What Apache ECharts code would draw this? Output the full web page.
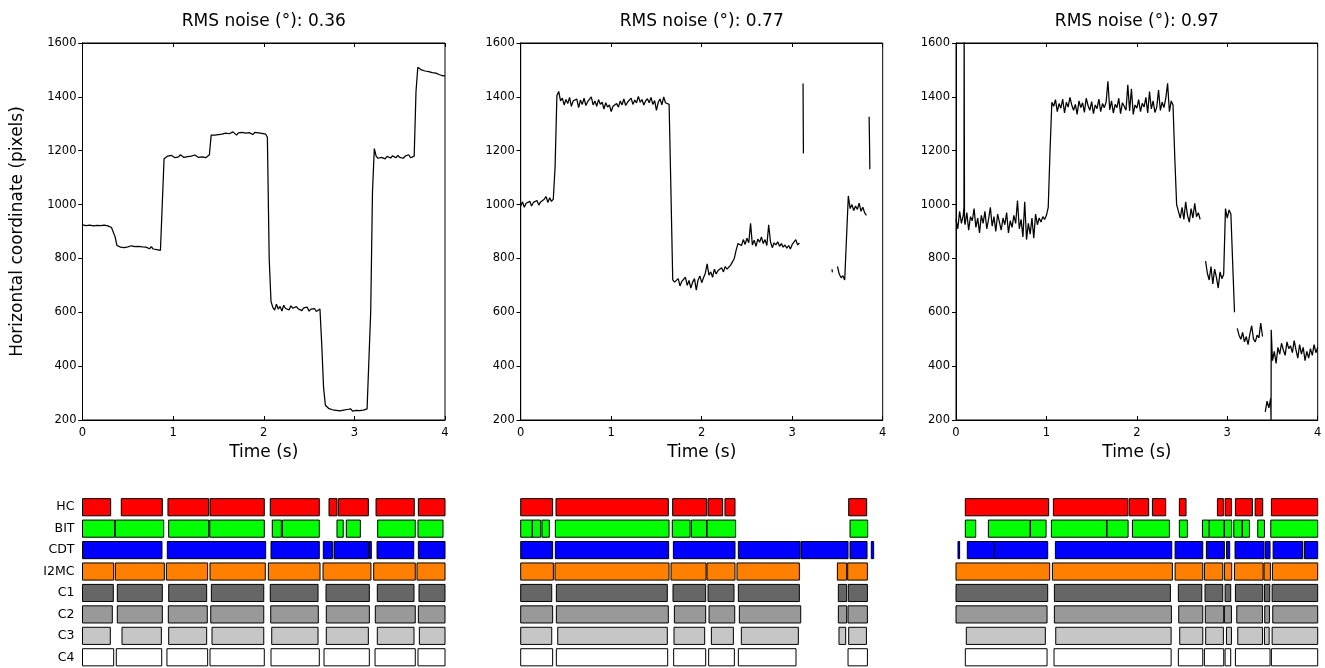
<!DOCTYPE html>
<html><head><meta charset="utf-8">
<script src="https://cdn.jsdelivr.net/npm/echarts@6/dist/echarts.min.js"></script>
<style>html,body{margin:0;padding:0;background:#fff}#c{width:1325px;height:668px}</style>
</head><body><div id="c"></div>
<script>
// ---------------- DATA ----------------
const panelTitles = ['RMS noise (°): 0.36', 'RMS noise (°): 0.77', 'RMS noise (°): 0.97'];
const xTickLabels = ['0', '1', '2', '3', '4'];
const yTickLabels = ['200', '400', '600', '800', '1000', '1200', '1400', '1600'];
const methods = ['HC', 'BIT', 'CDT', 'I2MC', 'C1', 'C2', 'C3', 'C4'];

// gaze traces: [start time (s), samples..., optional sample step (s)]
const trace1 = [
  [0.00, [925,928,922,927,924,926,921,925,923,927,922,920,924,919,921,917,915,918]],
  [0.36, [880,848,845,842,849,840,846,843,841,847,842,844,839,845,841,843,838,842,840,836,844,835,838,833,836,830,835]],
  [0.90, [1170,1172,1180,1176,1183,1178,1174,1181,1177,1185,1179,1175,1182,1178,1173,1180,1176,1184,1178,1175,1181,1177,1179,1174,1180,1185]],
  [1.42, [1258,1262,1258,1264,1260,1266,1262,1259,1265,1268,1263,1267,1270,1264,1258,1266,1262,1268,1271,1265,1262,1267,1264,1260,1268,1263,1266,1261,1264,1268,1262,1250]],
  [2.06, [800,640,618,608,630,612,622,605,626,614,620,609,624,615,610,621,613,618,606,616,611,619,604,612,608,614,603,610,612]],
  [2.64, [480,320,255,248,242,245,238,243,236,241,234,240,237,232,239,235,241,233,238,236,242,235,240,237,243,241,246]],
  [3.18, [600,1050,1208,1180,1172,1178,1175,1182,1170,1179,1176,1173,1181,1177,1174,1183,1175,1178,1172,1180,1176,1185,1174,1178,1180]],
  [3.68, [1420,1510,1505,1500,1502,1496,1498,1494,1492,1490,1486,1488,1484,1482,1480,1478,1479]]
];
const trace2 = [
  [0.00, [995,1010,990,1005,1000,1012,995,1008,1002,1015,998,1010,1005,1020,1030,1008,1025,1012,1020,1140,1405]],
  [0.42, [1420,1385,1395,1370,1390,1375,1398,1365,1385,1378,
          1392,1360,1388,1372,1395,1368,1382,1375,1400,1370,
          1385,1365,1390,1372,1380,1355,1378,1362,1370,1345,
          1365,1358,1375,1362,1385,1370,1392,1368,1380,1375,
          1395,1372,1388,1378,1402,1380,1390,1370,1385,1393,
          1378,1398,1372,1386,1350,1380,1392,1370,1400,1378,
          1385,1372]],
  [1.66, [1050,720,712,705,725,698,715,708,730,700,718,690,712,725,682,720,735,710,728,745,780,738,750,730,760,742,755,748,765,750,770,760,755,775,770,800,830,855]],
  [2.42, [860,848,870,852,875,858,930,850,868,845,872,860,880,855,870,848,925,862,840,858,850,862,845,855,842,850,838,848,835,852,845,870,850,858]],
  [3.12, [1450,1300,1190], 0.002],
  [3.44, [760,748], 0.004],
  [3.50, [770,742,728,736,720,725,1032,985,1000,978,995,982,1005,975,990,970,960]],
  [3.85, [1326,1240,1131], 0.004]
];
const trace3 = [
  [0.00, [945,910,975,930,960]],
  [0.088, [990,1700,1700,940], 0.002],
  [0.10, [925,970,905,955,940,985,915,950,895,960,
          930,975,910,945,990,920,955,900,965,935,
          905,950,925,970,895,940,915,960,930,1015,
          910,945,880,1010,870,930,890,950,875,965,
          925,950,935,955,945]],
  [1.00, [960,990,1200,1380,
          1365,1390,1345,1375,1358,1392,1340,1380,1362,1398,
          1370,1350,1372,1335,1385,1360,1378,1342,1395,1368,
          1350,1382,1338,1370,1356,1392,1345,1375,1360,1380,
          1458,1352,1385,1340,1372,1360,1395,1338,1378,1365,
          1350,1445,1348,1430,1335,1370,1358,1390,1345,1376,
          1362,1398,1340,1420,1355,1385,1342,1362,1425,1350,
          1380,1360,1395,1450,1345,1385]],
  [2.40, [1370,1170,1000,975,950,990,945,1010,960,935,985,950,1005,955,970,945]],
  [2.76, [790,745,720,770,705,760,730,690,750,725,740,985,950,980,965,780,600]],
  [3.11, [540,515,500,525,490,510,480,520,550,500,490,515,505,560,510]],
  [3.42, [230,270,245,280]],
  [3.484, [200,535], 0.002],
  [3.50, [420,455,410,470,445,485,460,440,490,465,
          475,450,495,460,430,480,445,470,420,455,
          430,465,440,480,450,470]]
];

// event intervals [start, end] in s, rows in the order of `methods`
const events1 = [
  [[0,0.311],[0.428,0.881],[0.943,1.392],[1.407,2.006],[2.072,2.613],[2.720,2.808],[2.823,3.154],[3.239,3.661],[3.706,4.0]],
  [[0,0.355],[0.362,0.896],[0.951,1.392],[1.404,2.006],[2.094,2.194],[2.205,2.613],[2.808,2.877],[2.911,3.066],[3.257,3.672],[3.702,3.978]],
  [[0,0.877],[0.936,2.021],[2.080,2.613],[2.657,2.757],[2.775,3.158],[3.165,3.187],[3.250,3.655],[3.706,4.0]],
  [[0,0.344],[0.362,0.903],[0.925,1.381],[1.407,2.017],[2.051,2.621],[2.654,3.183],[3.213,3.672],[3.691,4.0]],
  [[0,0.340],[0.384,0.881],[0.951,1.370],[1.422,2.0],[2.072,2.599],[2.687,3.165],[3.253,3.658],[3.713,4.0]],
  [[0,0.329],[0.384,0.881],[0.947,1.377],[1.415,2.0],[2.077,2.602],[2.690,3.165],[3.231,3.672],[3.706,4.0]],
  [[0,0.307],[0.436,0.870],[0.951,1.370],[1.429,2.0],[2.088,2.599],[2.690,3.154],[3.253,3.658],[3.717,4.0]],
  [[0,0.344],[0.373,0.874],[0.932,1.381],[1.407,2.006],[2.080,2.613],[2.665,3.165],[3.228,3.672],[3.702,4.0]]
];
const events2 = [
  [[0,0.353],[0.390,1.631],[1.679,2.055],[2.070,2.232],[2.257,2.368],[3.624,3.823]],
  [[0,0.128],[0.128,0.221],[0.235,0.316],[0.383,1.639],[1.675,1.871],[1.885,2.055],[2.059,2.375],[3.639,3.834]],
  [[0,0.353],[0.383,1.635],[1.687,2.368],[2.405,3.086],[3.097,3.617],[3.639,3.827],[3.874,3.9]],
  [[0,0.361],[0.379,1.639],[1.661,2.048],[2.059,2.368],[2.390,3.079],[3.499,3.602],[3.613,3.831]],
  [[0,0.343],[0.394,1.620],[1.683,2.044],[2.070,2.357],[2.405,3.079],[3.510,3.602],[3.620,3.831]],
  [[0,0.353],[0.394,1.631],[1.698,2.044],[2.081,2.365],[2.416,3.094],[3.510,3.602],[3.617,3.831]],
  [[0,0.343],[0.409,1.620],[1.694,2.033],[2.107,2.350],[2.438,3.068],[3.517,3.591],[3.624,3.820]],
  [[0,0.353],[0.394,1.624],[1.690,2.044],[2.077,2.361],[2.405,3.042],[3.617,3.831]]
];
const events3 = [
  [[0.103,1.025],[1.077,1.899],[1.914,2.131],[2.172,2.319],[2.470,2.544],[2.891,2.957],[2.976,3.046],[3.090,3.278],[3.308,3.392],[3.488,4.0]],
  [[0.103,0.218],[0.358,0.819],[0.823,0.996],[1.055,1.667],[1.670,1.903],[1.951,2.360],[2.470,2.559],[2.725,2.799],[2.803,2.965],[2.968,3.049],[3.072,3.164],[3.167,3.245],[3.337,3.411],[3.481,4.0]],
  [[0.022,0.040],[0.125,0.417],[0.420,1.014],[1.099,2.386],[2.423,2.729],[2.769,2.968],[2.991,3.027],[3.086,3.407],[3.422,3.473],[3.507,3.835],[3.853,4.0]],
  [[0,1.036],[1.066,2.393],[2.423,2.729],[2.747,2.950],[2.968,3.049],[3.079,3.396],[3.407,3.477],[3.499,4.0]],
  [[0,1.014],[1.088,2.371],[2.459,2.718],[2.754,2.950],[2.976,3.038],[3.090,3.392],[3.411,3.470],[3.496,4.0]],
  [[0,1.007],[1.088,2.382],[2.463,2.729],[2.757,2.961],[2.968,3.046],[3.105,3.389],[3.414,3.466],[3.503,4.0]],
  [[0.114,0.988],[1.103,2.379],[2.474,2.729],[2.761,2.957],[2.991,3.046],[3.116,3.389],[3.411,3.463],[3.496,4.0]],
  [[0.103,1.007],[1.084,2.379],[2.459,2.729],[2.747,2.961],[2.976,3.038],[3.090,3.473],[3.488,4.0]]
];

// ---------------- STYLE / LAYOUT ----------------
const rowColors = ['#ff0000', '#00ff00', '#0000ff', '#ff8000', '#666666', '#999999', '#c6c6c6', '#ffffff'];
const FONT = 'DejaVu Sans';
const panels = [
  { left: 82.5, width: 362.5 },
  { left: 520.7, width: 362 },
  { left: 956, width: 361.7 }
];
const traces = [trace1, trace2, trace3];
const eventSets = [events1, events2, events3];

function buildTrace(segs) {
  const out = [];
  let prevEnd = null;
  segs.forEach(s => {
    const t0 = s[0], vals = s[1], dt = s[2] || 0.02;
    if (prevEnd !== null && t0 - prevEnd > 0.025) out.push([+((prevEnd + t0) / 2).toFixed(4), '-']);
    vals.forEach((v, k) => out.push([+(t0 + k * dt).toFixed(4), v]));
    prevEnd = t0 + (vals.length - 1) * dt;
  });
  return out;
}
function buildEvents(rows) {
  const out = [];
  rows.forEach((row, r) => row.forEach(iv => out.push([iv[0], iv[1], r])));
  return out;
}

const grid = [], xAxis = [], yAxis = [], series = [], graphic = [];
const black = { color: '#000', width: 1 };
panels.forEach((p, i) => {
  grid.push({ left: p.left, width: p.width, top: 43, height: 377, show: true, borderColor: '#000', borderWidth: 1, backgroundColor: 'transparent' });
});
panels.forEach((p, i) => {
  grid.push({ left: p.left, width: p.width, top: 496.5, height: 174.5 });
});
panels.forEach((p, i) => {
  xAxis.push({
    gridIndex: i, type: 'value', min: 0, max: 4, interval: 1,
    axisLine: { show: true, lineStyle: black },
    axisTick: { show: true, inside: true, length: 4, lineStyle: black },
    axisLabel: { color: '#000', fontSize: 11.5, fontFamily: FONT, margin: 7, formatter: v => xTickLabels[Math.round(v)] },
    splitLine: { show: false },
    name: 'Time (s)', nameLocation: 'middle', nameGap: 22,
    nameTextStyle: { fontSize: 17, fontFamily: FONT, color: '#000' }
  });
  xAxis.push({
    gridIndex: i, type: 'value', position: 'top', min: 0, max: 4, interval: 1,
    axisLine: { show: true, lineStyle: black },
    axisTick: { show: true, inside: true, length: 4, lineStyle: black },
    axisLabel: { show: false }, splitLine: { show: false }
  });
  yAxis.push({
    gridIndex: i, type: 'value', min: 200, max: 1600, interval: 200,
    axisLine: { show: true, lineStyle: black },
    axisTick: { show: true, inside: false, length: 4, lineStyle: black },
    axisLabel: { color: '#000', fontSize: 11.5, fontFamily: FONT, margin: 6, formatter: v => yTickLabels[Math.round((v - 200) / 200)] },
    splitLine: { show: false },
    name: i === 0 ? 'Horizontal coordinate (pixels)' : '', nameLocation: 'middle', nameGap: 56,
    nameTextStyle: { fontSize: 17, fontFamily: FONT, color: '#000' }
  });
  yAxis.push({
    gridIndex: i, type: 'value', position: 'right', min: 200, max: 1600, interval: 200,
    axisLine: { show: true, lineStyle: black },
    axisTick: { show: true, inside: true, length: 4, lineStyle: black },
    axisLabel: { show: false }, splitLine: { show: false }
  });
  graphic.push({
    type: 'text', x: p.left + p.width / 2, y: 22,
    style: { text: panelTitles[i], font: '17px "' + FONT + '"', fill: '#000', align: 'center', verticalAlign: 'middle' }
  });
});
panels.forEach((p, i) => {
  xAxis.push({ gridIndex: 3 + i, type: 'value', min: 0, max: 4, show: false });
  yAxis.push({
    gridIndex: 3 + i, type: 'category', data: methods, inverse: true,
    axisLine: { show: false }, axisTick: { show: false }, splitLine: { show: false },
    axisLabel: { show: i === 0, color: '#000', fontSize: 12.5, fontFamily: FONT, margin: 8 }
  });
});
panels.forEach((p, i) => {
  series.push({
    type: 'line', xAxisIndex: 2 * i, yAxisIndex: 2 * i, data: buildTrace(traces[i]),
    symbol: 'none', showSymbol: false, clip: true, connectNulls: false,
    lineStyle: { color: '#000', width: 1.25 }, animation: false
  });
  series.push({
    type: 'custom', xAxisIndex: 6 + i, yAxisIndex: 6 + i, data: buildEvents(eventSets[i]),
    encode: { x: [0, 1], y: 2 }, animation: false, clip: false,
    renderItem: function (params, api) {
      const r = api.value(2);
      const s = api.coord([api.value(0), r]);
      const e = api.coord([api.value(1), r]);
      const h = api.size([0, 1])[1] * 0.8;
      return {
        type: 'rect',
        shape: { x: s[0], y: s[1] - h / 2, width: Math.max(e[0] - s[0], 1), height: h },
        style: { fill: rowColors[r], stroke: '#000', lineWidth: 1 }
      };
    }
  });
});

const chart = echarts.init(document.getElementById('c'), null, { renderer: 'canvas' });
chart.setOption({
  backgroundColor: '#fff', animation: false,
  textStyle: { fontFamily: FONT },
  grid, xAxis, yAxis, series, graphic
});
</script>
</body></html>
